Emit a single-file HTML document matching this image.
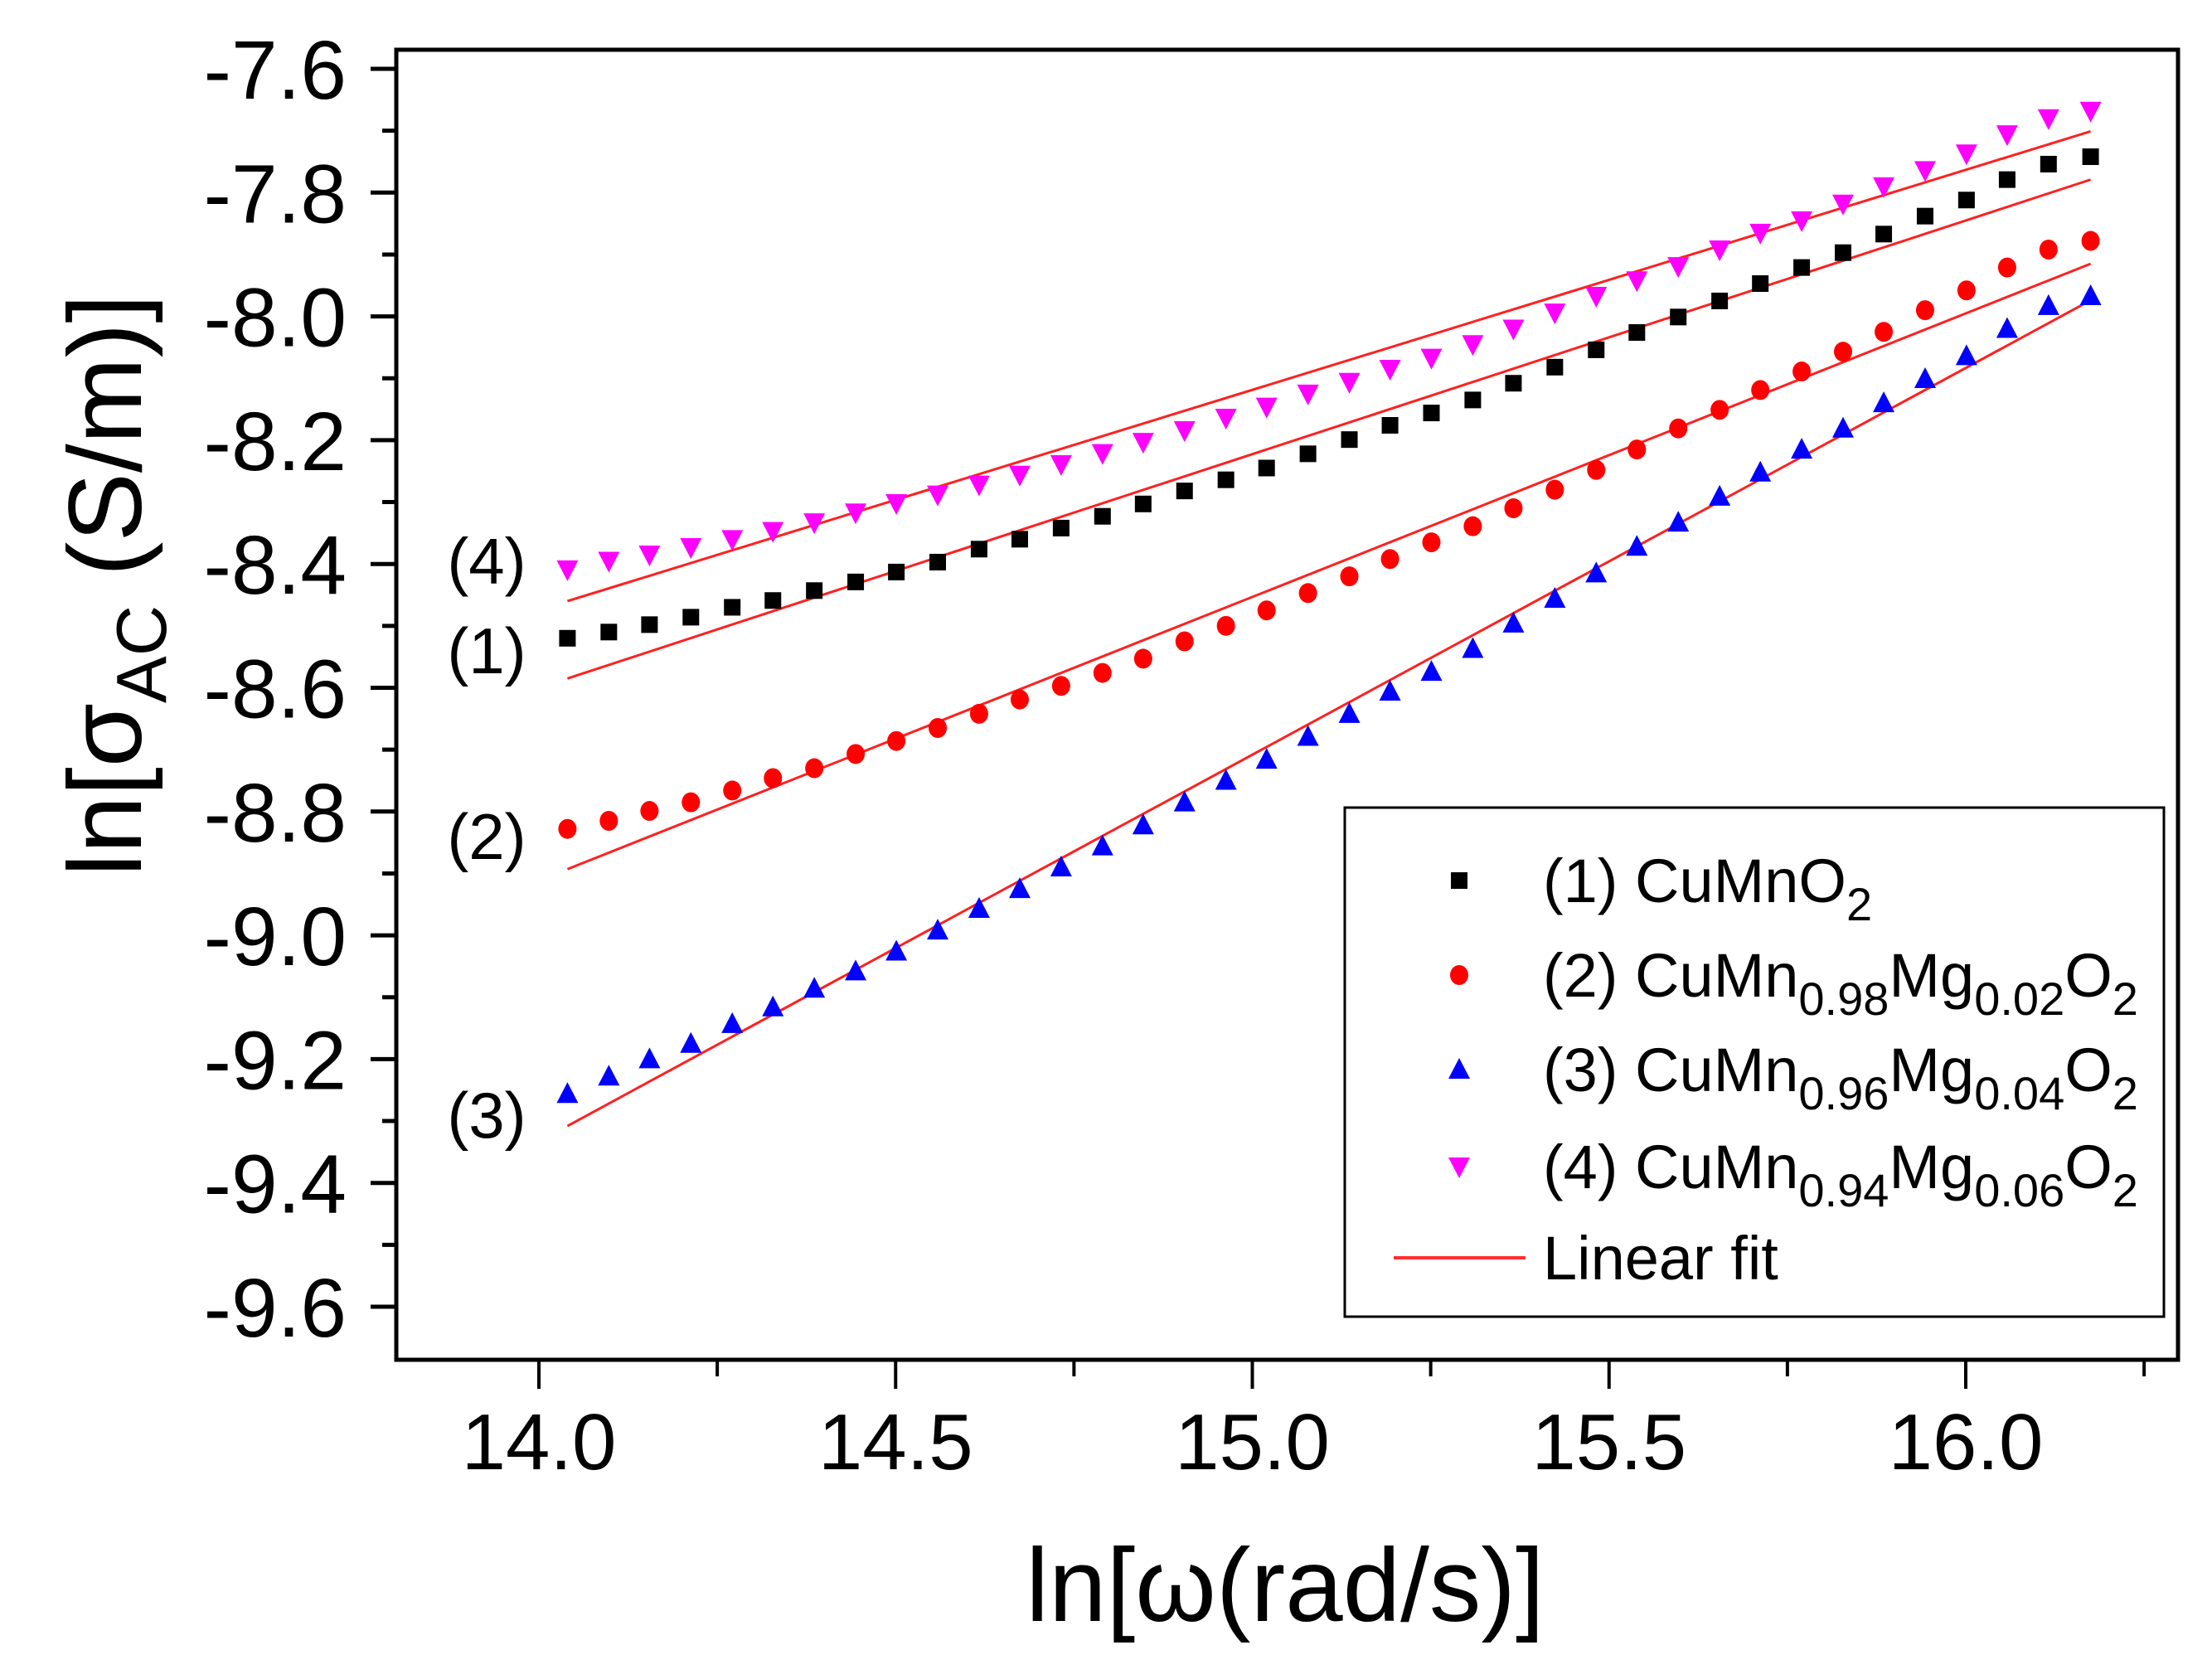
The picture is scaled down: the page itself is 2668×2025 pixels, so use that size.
<!DOCTYPE html>
<html><head><meta charset="utf-8"><style>
html,body{margin:0;padding:0;background:#fff}
svg{display:block;font-family:"Liberation Sans",Arial,sans-serif}
</style></head><body>
<svg id="chart" width="2668" height="2025" viewBox="0 0 2668 2025" xmlns="http://www.w3.org/2000/svg">
<g id="plot"></g>
</svg>
<script>
const xVals = [14.040,14.098,14.155,14.213,14.271,14.328,14.386,14.444,14.501,14.559,14.617,14.674,14.732,14.790,14.847,14.905,14.963,15.020,15.078,15.136,15.193,15.251,15.309,15.366,15.424,15.482,15.539,15.597,15.655,15.712,15.770,15.828,15.885,15.943,16.001,16.058,16.116,16.175];
const s1 = [-8.520,-8.510,-8.498,-8.486,-8.470,-8.459,-8.443,-8.429,-8.413,-8.397,-8.376,-8.360,-8.342,-8.323,-8.303,-8.282,-8.264,-8.245,-8.222,-8.199,-8.176,-8.156,-8.135,-8.108,-8.082,-8.054,-8.026,-8.001,-7.975,-7.947,-7.921,-7.897,-7.867,-7.838,-7.812,-7.779,-7.754,-7.742];
const s2 = [-8.828,-8.815,-8.799,-8.785,-8.766,-8.746,-8.730,-8.707,-8.686,-8.665,-8.642,-8.619,-8.597,-8.576,-8.553,-8.525,-8.500,-8.475,-8.447,-8.420,-8.392,-8.365,-8.339,-8.310,-8.280,-8.248,-8.215,-8.181,-8.151,-8.119,-8.089,-8.057,-8.025,-7.990,-7.958,-7.921,-7.892,-7.878];
const s3 = [-9.256,-9.228,-9.200,-9.175,-9.143,-9.116,-9.086,-9.058,-9.026,-8.992,-8.957,-8.925,-8.890,-8.856,-8.822,-8.785,-8.750,-8.716,-8.679,-8.642,-8.606,-8.574,-8.537,-8.496,-8.456,-8.415,-8.372,-8.333,-8.291,-8.252,-8.215,-8.181,-8.140,-8.101,-8.064,-8.020,-7.983,-7.967];
const s4 = [-8.409,-8.395,-8.385,-8.373,-8.360,-8.347,-8.333,-8.317,-8.302,-8.288,-8.272,-8.256,-8.239,-8.221,-8.203,-8.184,-8.164,-8.146,-8.125,-8.106,-8.085,-8.067,-8.045,-8.020,-7.994,-7.967,-7.942,-7.919,-7.892,-7.865,-7.845,-7.818,-7.790,-7.764,-7.737,-7.706,-7.680,-7.668];
const fitStart = [-8.585,-8.893,-9.308,-8.460];
const fitEnd = [-7.779,-7.915,-7.974,-7.701];
const fitX = [14.040,16.175];
const xTicks = [14.0,14.5,15.0,15.5,16.0];
const xTickLabels = ["14.0","14.5","15.0","15.5","16.0"];
const xMinor = [14.25,14.75,15.25,15.75,16.25];
const yTicks = [-7.6,-7.8,-8.0,-8.2,-8.4,-8.6,-8.8,-9.0,-9.2,-9.4,-9.6];
const yTickLabels = ["-7.6","-7.8","-8.0","-8.2","-8.4","-8.6","-8.8","-9.0","-9.2","-9.4","-9.6"];
const curveLabels = ["(1)","(2)","(3)","(4)"];
const curveLabelVals = [-8.555,-8.855,-9.305,-8.41];

const NS="http://www.w3.org/2000/svg";
const L=478,R=2627,T=60,B=1640;
function xs(v){return 650+(v-14)*860.5;}
function ys(v){return 83+(-7.6-v)/0.2*149.3;}
const g=document.getElementById('plot');
function mk(tag,attrs,parent){const e=document.createElementNS(NS,tag);for(const k in attrs)e.setAttribute(k,attrs[k]);(parent||g).appendChild(e);return e;}

let fr=mk('rect',{x:L,y:T,width:R-L,height:B-T,fill:'none',stroke:'#000','stroke-width':5});



for(let i=0;i<yTicks.length;i++){
  const y=ys(yTicks[i]);
  let t=mk('line',{x1:L-31,x2:L,y1:y,y2:y,stroke:'#000','stroke-width':5});
  
  
  let lb=mk('text',{x:418,y:y+36,'font-size':100,'text-anchor':'end',fill:'#000'});
  lb.textContent=yTickLabels[i];
  
  
  if(i<yTicks.length-1){
    const ym=ys(yTicks[i]-0.1);
    let m=mk('line',{x1:L-17,x2:L,y1:ym,y2:ym,stroke:'#000','stroke-width':5});
    
    
  }
}
for(let i=0;i<xTicks.length;i++){
  const x=xs(xTicks[i]);
  let t=mk('line',{x1:x,x2:x,y1:B,y2:B+35,stroke:'#000','stroke-width':4});
  
  
  let lb=mk('text',{x:x,y:1772,'font-size':96,'text-anchor':'middle',fill:'#000'});
  lb.textContent=xTickLabels[i];
  
  
}
xMinor.forEach(v=>{
  const x=xs(v);
  let m=mk('line',{x1:x,x2:x,y1:B,y2:B+20,stroke:'#000','stroke-width':4});
  
  
});

for(let i=0;i<4;i++){
  let ln=mk('line',{x1:xs(fitX[0]),y1:ys(fitStart[i]),x2:xs(fitX[1]),y2:ys(fitEnd[i]),stroke:'#ff2020','stroke-width':3});
  
  
}
function marker(kind,cx,cy,name){
  let e;
  if(kind==='sq') e=mk('rect',{x:cx-10,y:cy-10,width:20,height:20,fill:'#000'});
  else if(kind==='ci') e=mk('ellipse',{cx:cx,cy:cy,rx:11,ry:12,fill:'#ff0000'});
  else if(kind==='up') e=mk('polygon',{points:`${cx-13},${cy+11} ${cx+13},${cy+11} ${cx},${cy-14}`,fill:'#0000ff'});
  else e=mk('polygon',{points:`${cx-13},${cy-11} ${cx+13},${cy-11} ${cx},${cy+14}`,fill:'#ff00ff'});
  
  
  return e;
}
const series=[[s1,'sq'],[s2,'ci'],[s3,'up'],[s4,'dn']];
series.forEach((s,k)=>{
  for(let i=0;i<xVals.length;i++){
    marker(s[1],xs(xVals[i]),ys(s[0][i]),'point-series-'+(k+1));
  }
});
for(let i=0;i<4;i++){
  let t=mk('text',{x:587,y:ys(curveLabelVals[i])+16,'font-size':78,'text-anchor':'middle',fill:'#000'});
  t.textContent=curveLabels[i];
  
  
}
</script>
<script>
(function(){
const g=document.getElementById('plot');
const NS="http://www.w3.org/2000/svg";
function mk(tag,attrs,parent){const e=document.createElementNS(NS,tag);for(const k in attrs)e.setAttribute(k,attrs[k]);(parent||g).appendChild(e);return e;}
const lg=mk('g',{});


const box=mk('rect',{x:1622,y:974,width:988,height:614,fill:'#fff',stroke:'#000','stroke-width':3},lg);


const rows=[1062,1176,1290,1407];
const tx=1861;
const items=[
 ['sq','(1) CuMnO',[['2','sub']]],
 ['ci','(2) CuMn',[['0.98','sub'],['Mg',''],['0.02','sub'],['O',''],['2','sub']]],
 ['up','(3) CuMn',[['0.96','sub'],['Mg',''],['0.04','sub'],['O',''],['2','sub']]],
 ['dn','(4) CuMn',[['0.94','sub'],['Mg',''],['0.06','sub'],['O',''],['2','sub']]]
];
items.forEach((it,i)=>{
  const cy=rows[i], cx=1760;
  let m;
  if(it[0]==='sq') m=mk('rect',{x:cx-10,y:cy-10,width:20,height:20,fill:'#000'},lg);
  else if(it[0]==='ci') m=mk('ellipse',{cx:cx,cy:cy,rx:11,ry:12,fill:'#f00'},lg);
  else if(it[0]==='up') m=mk('polygon',{points:`${cx-13},${cy+11} ${cx+13},${cy+11} ${cx},${cy-14}`,fill:'#00f'},lg);
  else m=mk('polygon',{points:`${cx-13},${cy-11} ${cx+13},${cy-11} ${cx},${cy+14}`,fill:'#f0f'},lg);
  
  
  const t=mk('text',{x:tx,y:cy+26,'font-size':74,fill:'#000'},lg);
  
  
  const a=document.createElementNS(NS,'tspan');a.textContent=it[1];t.appendChild(a);
  it[2].forEach(p=>{
    const s=document.createElementNS(NS,'tspan');
    s.textContent=p[0];
    if(p[1]==='sub'){s.setAttribute('font-size','56');s.setAttribute('dy','22');}
    else{s.setAttribute('dy','-22');}
    t.appendChild(s);
  });
});
const fl=mk('line',{x1:1681,x2:1840,y1:1517,y2:1517,stroke:'#ff3030','stroke-width':4},lg);


const ft=mk('text',{x:tx,y:1543,'font-size':74,fill:'#000'},lg);
ft.textContent='Linear fit';


const xt=mk('text',{x:1550,y:1955,'font-size':125,'text-anchor':'middle',fill:'#000'});
xt.textContent='ln[ω(rad/s)]';


const yt=mk('text',{x:0,y:0,'font-size':125,'text-anchor':'middle',fill:'#000',transform:'translate(170,706) rotate(-90)'});


const p1=document.createElementNS(NS,'tspan');p1.textContent='ln[σ';yt.appendChild(p1);
const p2=document.createElementNS(NS,'tspan');p2.textContent='AC';p2.setAttribute('font-size','85');p2.setAttribute('dy','30');yt.appendChild(p2);
const p3=document.createElementNS(NS,'tspan');p3.textContent=' (S/m)]';p3.setAttribute('dy','-30');yt.appendChild(p3);
})();
</script>
</body></html>
